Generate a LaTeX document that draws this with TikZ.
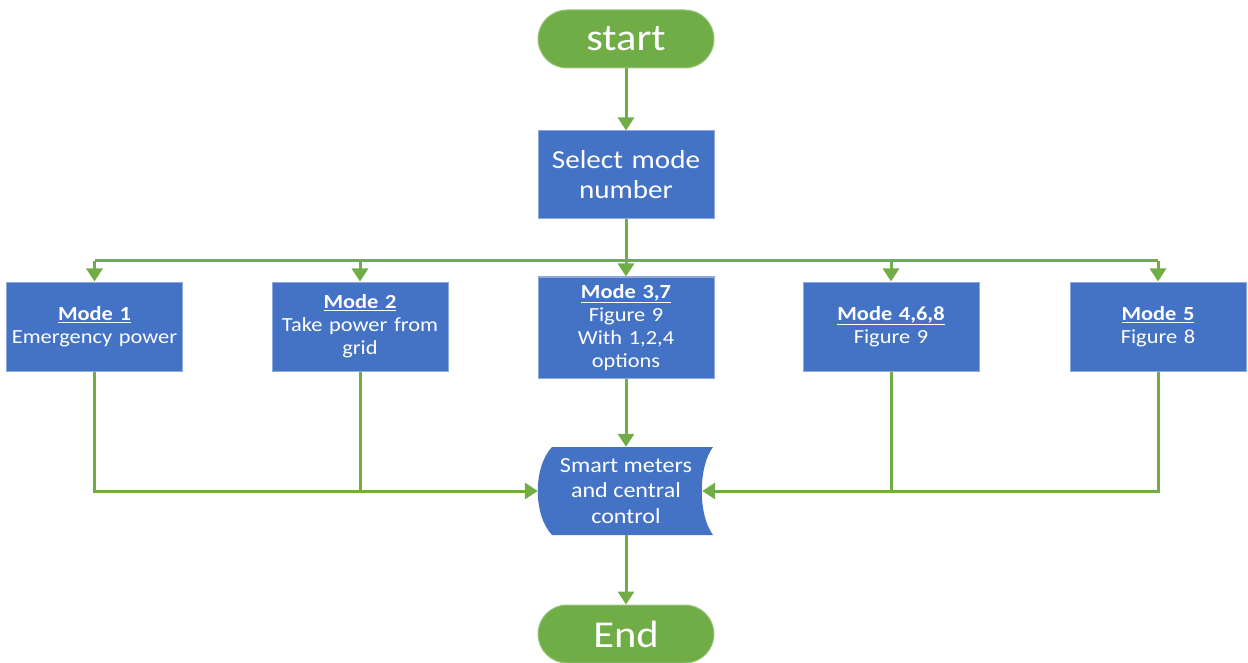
\documentclass[tikz,border=0pt]{standalone}
\usepackage{fontspec}
\setmainfont[FakeStretch=1.12]{Carlito}
\usetikzlibrary{arrows.meta}

\definecolor{flowgreen}{HTML}{70AD47}
\definecolor{flowblue}{HTML}{4472C4}
\definecolor{flowedge}{HTML}{8EA9DB}

\tikzset{
  terminal/.style={fill=flowgreen, draw=flowgreen!70!white, line width=1pt, rounded corners=29pt,
    minimum width=176pt, minimum height=58pt, text=white, font=\fontsize{38}{40}\selectfont},
  procbox/.style={fill=flowblue, draw=flowedge, line width=1pt, minimum width=176pt, minimum height=88pt,
    text=white, align=center, text width=168pt, inner sep=2pt, font=\fontsize{26}{30}\selectfont},
  modebox/.style={procbox, minimum height=89pt, font=\fontsize{20}{23}\selectfont},
  flow/.style={draw=flowgreen, line width=3pt, -{Triangle[width=16pt,length=13pt]}},
  flowline/.style={draw=flowgreen, line width=3pt},
}

\begin{document}
\begin{tikzpicture}[x=1pt,y=-1pt]
  \useasboundingbox (0,0) rectangle (1248,663);

  \node[terminal] (start) at (626,39) {start};
  \node[procbox] (select) at (626,175) {Select mode number};

  \node[modebox] (mode1) at (94.5,326.5) {\underline{\textbf{Mode 1}}\\Emergency power};
  \node[modebox] (mode2) at (360,326.5) {\underline{\textbf{Mode 2}}\\Take power from\\grid};
  \node[modebox, minimum height=101pt] (mode37) at (626,327.5) {\underline{\textbf{Mode 3,7}}\\Figure 9\\With 1,2,4\\options};
  \node[modebox] (mode468) at (891,326.5) {\underline{\textbf{Mode 4,6,8}}\\Figure 9};
  \node[modebox] (mode5) at (1158,326.5) {\underline{\textbf{Mode 5}}\\Figure 8};

  % stored data shape
  \fill[flowblue] (552,447) -- (713,447) .. controls (698,467) and (698,515) .. (713,535)
    -- (552,535) .. controls (533,515) and (533,467) .. (552,447) -- cycle;
  \node[text=white, align=center, font=\fontsize{21.5}{25.5}\selectfont, minimum width=176pt, minimum height=88pt]
    (smart) at (626,491) {Smart meters\\and central\\control};

  \node[terminal] (finish) at (626,634) {End};

  % branches
  \coordinate (split) at (626,261);
  \draw[flowline] (select.south) -- (split);
  \draw[flowline] (mode1.north |- split) -- (mode5.north |- split);
  \foreach \m in {mode1,mode2,mode37,mode468,mode5}
    \draw[flow] (\m.north |- split) -- (\m.north);

  \draw[flow] (start.south) -- (select.north);

  % merge
  \draw[flow] (mode1.south) |- (smart.west);
  \draw[flowline] (mode2.south) -- (mode2.south |- smart.west);
  \draw[flow] (mode5.south) |- ([xshift=-12pt]smart.east);
  \draw[flowline] (mode468.south) -- (mode468.south |- smart.east);
  \draw[flow] (mode37.south) -- (smart.north);
  \draw[flow] (smart.south) -- (finish.north);
\end{tikzpicture}
\end{document}
